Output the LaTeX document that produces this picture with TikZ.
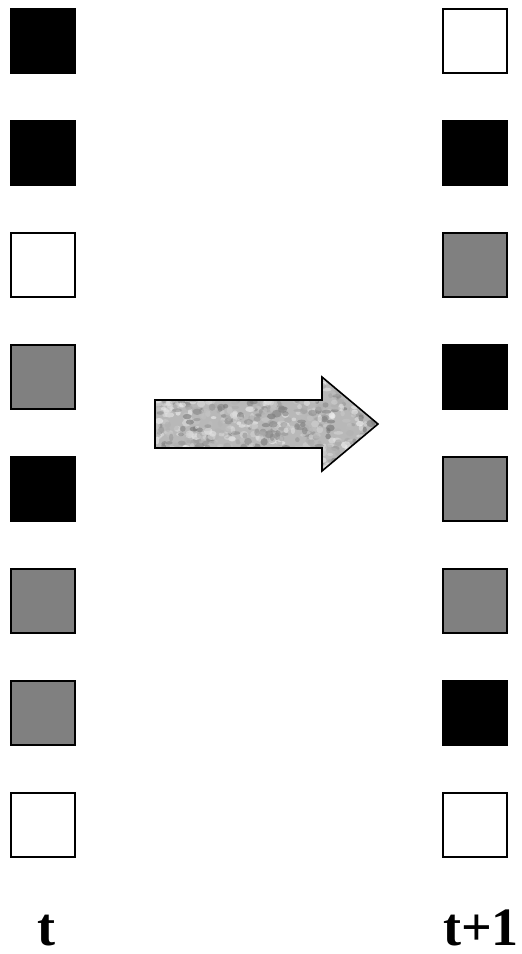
\documentclass[tikz,border=0pt]{standalone}
\usepackage{fontspec}
\setmainfont{Liberation Serif}
\usetikzlibrary{positioning}

\begin{document}
\begin{tikzpicture}[x=1pt,y=-1pt,
    cell/.style={draw=black,line width=2pt,minimum size=64pt,inner sep=0pt,outer sep=0pt},
    steplab/.style={font=\fontsize{54}{58}\selectfont\bfseries,anchor=base,inner sep=0pt}]
  \useasboundingbox (0,0) rectangle (522,954);
  % state at t (top to bottom)
  \foreach \c [count=\i] in {black,black,white,gray,black,gray,gray,white}
    \node[cell,fill=\c] (l\i) at (43,{41+112*(\i-1)}) {};
  % state at t+1
  \foreach \c [count=\i] in {white,black,gray,black,gray,gray,black,white}
    \node[cell,fill=\c] (r\i) at (475,{41+112*(\i-1)}) {};
  % textured arrow
  \begin{scope}
    \clip (155,400) -- (322,400) -- (322,377) -- (378,424) -- (322,471)
          -- (322,448) -- (155,448) -- cycle;
    \fill[black!28] (150,370) rectangle (385,480);
    \pgfmathsetseed{11}
    \foreach \k in {1,...,900} {
      \pgfmathsetmacro{\px}{155+225*rnd}
      \pgfmathsetmacro{\py}{374+100*rnd}
      \pgfmathsetmacro{\sh}{5+50*rnd}
      \fill[black!\sh,opacity=0.6] (\px,\py) ellipse ({2+3*rnd} and {1.5+2.5*rnd});
    }
  \end{scope}
  \draw[line width=1.6pt,line join=miter] (155,400) -- (322,400) -- (322,377)
    -- (378,424) -- (322,471) -- (322,448) -- (155,448) -- cycle;
  % time labels
  \node[steplab] (tlab) at (46,945) {t};
  \node[steplab] (tnext) at (481,945) {t+1};
\end{tikzpicture}
\end{document}
